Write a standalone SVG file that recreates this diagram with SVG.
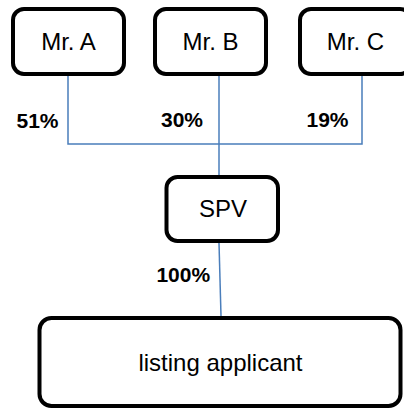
<svg xmlns="http://www.w3.org/2000/svg" width="404" height="410" viewBox="0 0 404 410">
<style>
.box{fill:#fff;stroke:#000;stroke-width:4}
.lbl{font-family:"Liberation Sans",Arial,sans-serif;font-size:24px;fill:#000;text-anchor:middle}
.pct{font-family:"Liberation Sans",Arial,sans-serif;font-size:21px;font-weight:bold;fill:#000;text-anchor:middle}
.con{fill:none;stroke:#4A7EBB;stroke-width:1.5}
</style>
<rect width="404" height="410" fill="#fff"/>
<g id="connectors">
<path class="con" d="M68,76 V144 H362 V76"/>
<path class="con" d="M219,76 V175"/>
<path class="con" d="M219,243 L221,316"/>
</g>
<g id="mrA"><rect class="box" x="13" y="9" width="111" height="65" rx="11"/><text class="lbl" x="68.5" y="50">Mr. A</text></g>
<g id="mrB"><rect class="box" x="155" y="9" width="111" height="65" rx="11"/><text class="lbl" x="210.5" y="50">Mr. B</text></g>
<g id="mrC"><rect class="box" x="300" y="9" width="111" height="65" rx="11"/><text class="lbl" x="355.5" y="50">Mr. C</text></g>
<g id="spv"><rect class="box" x="166.5" y="177" width="111.5" height="64" rx="11"/><text class="lbl" x="223" y="217">SPV</text></g>
<g id="listing"><rect class="box" x="39.5" y="318" width="361" height="88" rx="12"/><text class="lbl" x="220.5" y="371">listing applicant</text></g>
<g id="labels">
<text class="pct" x="37.5" y="128">51%</text>
<text class="pct" x="182" y="127">30%</text>
<text class="pct" x="327.5" y="127">19%</text>
<text class="pct" x="183.3" y="282">100%</text>
</g>
</svg>
